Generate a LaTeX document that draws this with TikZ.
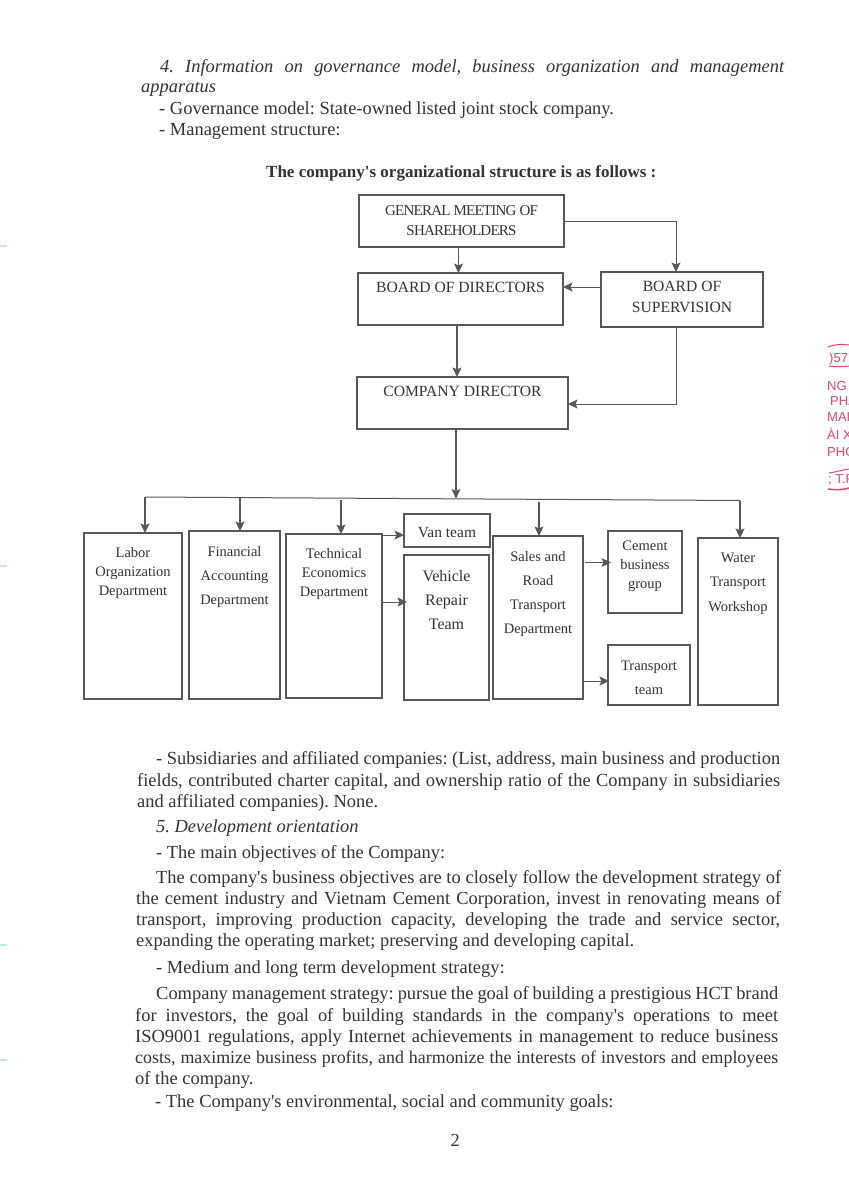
\documentclass[tikz,border=0pt]{standalone}
\usepackage{fontspec}
\setmainfont{Liberation Serif}
\setsansfont{Liberation Sans}
\usetikzlibrary{arrows.meta}
\newcommand\sq{\XeTeXglyph\XeTeXglyphindex"quotesingle"\relax}
\definecolor{ink}{HTML}{333333}
\definecolor{boxline}{HTML}{55575B}
\definecolor{stampred}{HTML}{E4476B}
\definecolor{edgemark}{HTML}{BDEBEE}
\tikzset{
  x=1pt,y=-1pt,
  orgnode/.style={draw=boxline,line width=1.2pt,inner sep=0pt,outer sep=0pt,text=ink},
  link/.style={draw=boxline,line width=1.3pt,-{Stealth[length=9.5pt,width=9pt,inset=2pt]}},
  thinlink/.style={link,line width=1pt},
  plainlink/.style={draw=boxline,line width=1pt},
  bodyline/.style={anchor=base west,inner sep=0pt,text=ink,font=\fontsize{18.45}{20}\selectfont},
  stamptext/.style={anchor=base west,inner sep=0pt,text=stampred,font=\sffamily\fontsize{13}{14}\selectfont}
}
% name, x1, y1, x2, y2, top pad, line pitch, font size, text
\newcommand\orgbox[9]{%
  \pgfmathsetmacro\obw{#4-#2}\pgfmathsetmacro\obh{#5-#3}%
  \pgfmathsetmacro\obx{(#2+#4)/2}\pgfmathsetmacro\oby{(#3+#5)/2}%
  \node[orgnode,minimum width=\obw pt,minimum height=\obh pt] (#1) at (\obx,\oby)
    {\parbox[c][\obh pt][t]{\obw pt}{\centering\fontsize{#8}{#7}\selectfont\vspace*{#6pt}#9\par}};%
}
% name, x and baseline, width, text: justified line
\newcommand\jline[4]{\node[bodyline] (#1) at (#2) {\makebox[#3pt][s]{#4}};}
\begin{document}
\frenchspacing
\begin{tikzpicture}
\useasboundingbox (0,0) rectangle (849,1200);
\fill[white] (0,0) rectangle (849,1200);
% scanner marks on the left edge
\foreach \my in {246,566,945,1060}{\draw[edgemark,line width=1.2pt] (0,\my) -- (7,\my);}
% page text above the chart
\jline{t1}{160,72}{624}{\itshape 4. Information on governance model, business organization and management}
\node[bodyline,font=\fontsize{18.45}{20}\selectfont\itshape] (t2) at (141,92) {apparatus};
\node[bodyline] (t3) at (159,114) {- Governance model: State-owned listed joint stock company.};
\node[bodyline] (t4) at (159,135) {- Management structure:};
\node[bodyline,font=\fontsize{17}{20}\selectfont\bfseries] (t5) at (266,177) {The company\sq s organizational structure is as follows :};
% chart boxes
\orgbox{gm}{359}{195}{564}{247}{10.5}{20.5}{15}{\addfontfeatures{LetterSpace=-5}GENERAL MEETING OF\\SHAREHOLDERS}
\orgbox{bod}{358}{273}{563}{325}{9}{21}{15.6}{BOARD OF DIRECTORS}
\orgbox{bos}{601}{272}{763}{327}{9}{21}{15.6}{BOARD OF\\SUPERVISION}
\orgbox{cd}{357}{377}{568}{429}{9}{21}{15.6}{COMPANY DIRECTOR}
\orgbox{labor}{84}{533}{182}{699}{14}{19}{14.5}{Labor\\Organization\\Department}
\orgbox{fin}{189}{531}{280}{699}{15}{24}{14.5}{Financial\\Accounting\\Department}
\orgbox{tech}{286}{534}{382}{698}{14}{19}{14.5}{Technical\\Economics\\Department}
\orgbox{van}{404}{514}{490}{547}{13.5}{18}{15.5}{Van team}
\orgbox{veh}{404}{555}{489}{700}{15}{24}{16}{Vehicle\\Repair\\Team}
\orgbox{sales}{493}{536}{583}{699}{15}{24.3}{14.5}{Sales and\\Road\\Transport\\Department}
\orgbox{cem}{608}{531}{682}{613}{10}{19}{14.5}{Cement\\business\\group}
\orgbox{trans}{608}{645}{690}{705}{16}{24}{14.5}{Transport\\team}
\orgbox{water}{698}{538}{778}{705}{15}{24.4}{14.5}{Water\\Transport\\Workshop}
% chart connectors
\draw[link] ([xshift=-3pt]gm.south) -- ([xshift=-3pt]gm.south |- bod.north);
\draw[thinlink] (gm.east) -| ([xshift=-6pt]bos.north);
\draw[thinlink] ([yshift=12.5pt]bos.west) -- ([yshift=12.5pt]bos.west -| bod.east);
\draw[link] ([xshift=-3.5pt]bod.south) -- ([xshift=-3.5pt]bod.south |- cd.north);
\draw[thinlink] ([xshift=-6pt]bos.south) |- ([yshift=-1pt]cd.east);
\coordinate (busL) at (145,497);
\coordinate (busR) at (740,500.5);
\draw[link] ([xshift=-6.5pt]cd.south) -- ([xshift=-6.5pt]cd.south |- 0,498.5);
\draw[plainlink] (busL) -- (busR);
\draw[link] (busL) -- (busL |- labor.north);
\draw[link] ([xshift=5.5pt]fin.north |- 0,498) -- ([xshift=5.5pt]fin.north);
\draw[link] ([xshift=7pt]tech.north |- 0,500) -- ([xshift=7pt]tech.north);
\draw[link] ([xshift=1pt]sales.north |- 0,502) -- ([xshift=1pt]sales.north);
\draw[link] (busR) -- (busR |- water.north);
\draw[thinlink] ([yshift=81pt]tech.east) -- ([yshift=81pt]tech.east -| van.west);
\draw[thinlink] ([yshift=14pt]tech.east) -- ([xshift=3pt,yshift=14pt]tech.east -| veh.west);
\draw[thinlink] ([xshift=2pt,yshift=55pt]sales.east) -- ([xshift=3pt,yshift=55pt]sales.east -| cem.west);
\draw[thinlink] ([xshift=1pt,yshift=-63.5pt]sales.east) -- ([xshift=1pt,yshift=-63.5pt]sales.east -| trans.west);
% page text below the chart
\jline{b1}{156,764}{624}{- Subsidiaries and affiliated companies: (List, address, main business and production}
\jline{b2}{137,786}{643}{fields, contributed charter capital, and ownership ratio of the Company in subsidiaries}
\node[bodyline] (b3) at (137,807) {and affiliated companies). None.};
\node[bodyline,font=\fontsize{18.45}{20}\selectfont\itshape] (b4) at (156,832) {5. Development orientation};
\node[bodyline] (b5) at (156,858) {- The main objectives of the Company:};
\jline{b6}{156,883}{625}{The company\sq s business objectives are to closely follow the development strategy of}
\jline{b7}{136,904.5}{645}{the cement industry and Vietnam Cement Corporation, invest in renovating means of}
\jline{b8}{136,925}{644}{transport, improving production capacity, developing the trade and service sector,}
\node[bodyline] (b9) at (136,946) {expanding the operating market; preserving and developing capital.};
\node[bodyline] (b10) at (156,973) {- Medium and long term development strategy:};
\jline{b11}{156,999}{622}{Company management strategy: pursue the goal of building a prestigious HCT brand}
\jline{b12}{135,1021}{643}{for investors, the goal of building standards in the company\sq s operations to meet}
\jline{b13}{135,1042}{643}{ISO9001 regulations, apply Internet achievements in management to reduce business}
\jline{b14}{135,1063}{643}{\fontsize{17.9}{20}\selectfont costs, maximize business profits, and harmonize the interests of investors and employees}
\node[bodyline] (b15) at (135,1084) {of the company.};
\node[bodyline] (b16) at (155,1107) {- The Company\sq s environmental, social and community goals:};
\node[bodyline] (pg) at (450.5,1146) {2};
% stamp fragment at the page edge
\begin{scope}
\clip (0,0) rectangle (849,1200);
\draw[stampred,line width=1pt] (828,347) .. controls (835,344) and (842,344) .. (849,345);
\draw[stampred,line width=1pt] (829,366) .. controls (836,367) and (842,367) .. (849,366);
\draw[stampred,line width=1pt] (829,473) .. controls (836,472) and (842,470) .. (849,469);
\draw[stampred,line width=1.5pt] (828,489) .. controls (836,490) and (842,490) .. (849,488);
\node[stamptext] (s1) at (829,362) {)57};
\node[stamptext] (s2) at (827,390) {NG};
\node[stamptext] (s3) at (830,405) {PHA};
\node[stamptext] (s4) at (827,421) {MAI-};
\node[stamptext] (s5) at (827,439) {ÀI XI};
\node[stamptext] (s6) at (827,456) {PHÒ};
\node[stamptext] (s7) at (828,483) {; T.P};
\end{scope}
\end{tikzpicture}
\end{document}
